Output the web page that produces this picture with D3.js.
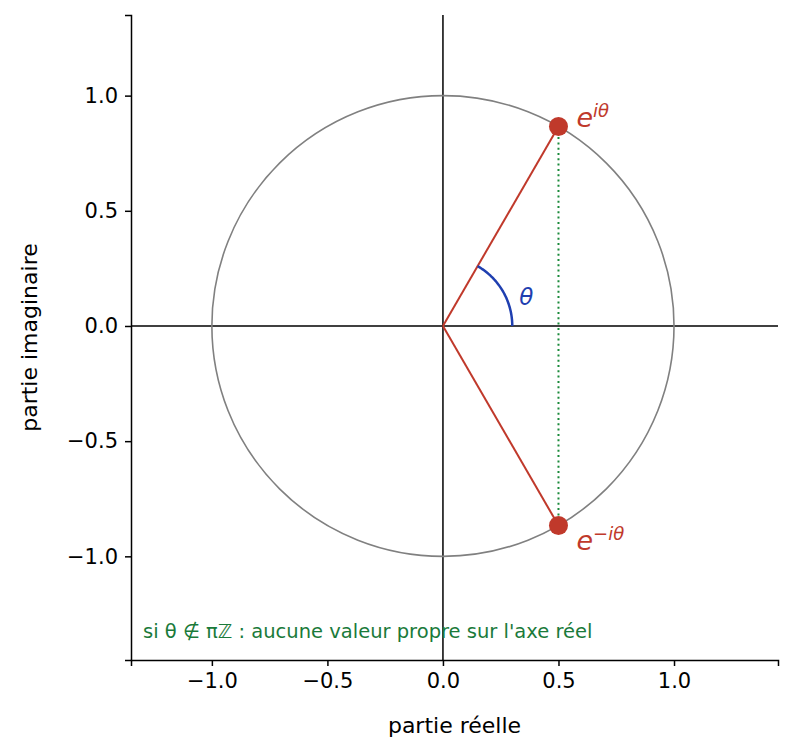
<!DOCTYPE html>
<html><head><meta charset="utf-8">
<script src="https://cdn.jsdelivr.net/npm/d3@7"></script>
<style>body{margin:0;background:#fff}text{font-family:"DejaVu Sans",sans-serif}</style>
</head><body><svg id="c" width="793" height="755"></svg>
<script>
const xTicks = [-1.0, -0.5, 0.0, 0.5, 1.0];
const yTicks = [-1.0, -0.5, 0.0, 0.5, 1.0];
const theta = Math.PI / 3;
const eigenvalues = [
  {re: Math.cos(theta), im: Math.sin(theta), label: "iθ", dy: -16},
  {re: Math.cos(theta), im: -Math.sin(theta), label: "−iθ", dy: 8}
];
const arcRadius = 0.3;

const svg = d3.select('#c');
const x = d3.scaleLinear().domain([-1.35, 1.45]).range([131, 778]);
const y = d3.scaleLinear().domain([-1.45, 1.35]).range([660, 15]);
const fmt = d3.format('.1f');
const minus = v => fmt(v).replace('-', '−');

// axes
const xa = svg.append('g').attr('transform', 'translate(0,660)')
  .call(d3.axisBottom(x).tickValues(xTicks).tickFormat(minus).tickSizeOuter(0).tickSize(6).tickPadding(7));
const ya = svg.append('g').attr('transform', 'translate(131,0)')
  .call(d3.axisLeft(y).tickValues(yTicks).tickFormat(minus).tickSizeOuter(0).tickSize(6).tickPadding(7));
[xa, ya].forEach(a => {
  a.attr('font-size', 21).attr('font-family', 'DejaVu Sans');
  a.selectAll('text').attr('fill', '#000');
  a.selectAll('line,path').attr('stroke', '#000').attr('stroke-width', 1.5);
});
svg.append('text').attr('x', x(0.05)).attr('y', 733).attr('text-anchor', 'middle')
  .attr('font-size', 22).text('partie réelle');
svg.append('text').attr('transform', `translate(37,${y(-0.05)}) rotate(-90)`)
  .attr('text-anchor', 'middle').attr('font-size', 22).text('partie imaginaire');

// zero lines
svg.append('line').attr('x1', x(0)).attr('x2', x(0)).attr('y1', 15).attr('y2', 660).attr('stroke', '#000').attr('stroke-width', 1.5);
svg.append('line').attr('x1', 131).attr('x2', 778).attr('y1', y(0)).attr('y2', y(0)).attr('stroke', '#000').attr('stroke-width', 1.5);

// unit circle
svg.append('ellipse').attr('cx', x(0)).attr('cy', y(0))
  .attr('rx', x(1) - x(0)).attr('ry', y(0) - y(1))
  .attr('fill', 'none').attr('stroke', 'gray').attr('stroke-width', 1.6);

// radii
eigenvalues.forEach(p => {
  svg.append('line').attr('x1', x(0)).attr('y1', y(0)).attr('x2', x(p.re)).attr('y2', y(p.im))
    .attr('stroke', '#c0392b').attr('stroke-width', 2);
});
// dotted conjugate link
svg.append('line').attr('x1', x(eigenvalues[0].re)).attr('y1', y(eigenvalues[0].im))
  .attr('x2', x(eigenvalues[1].re)).attr('y2', y(eigenvalues[1].im))
  .attr('stroke', '#1a8a3a').attr('stroke-width', 2).attr('stroke-dasharray', '2,3.3');

// angle arc
const arcPts = d3.range(0, 61).map(i => theta * i / 60);
svg.append('path').attr('d', d3.line().x(t => x(arcRadius * Math.cos(t))).y(t => y(arcRadius * Math.sin(t)))(arcPts))
  .attr('fill', 'none').attr('stroke', '#1f3fb0').attr('stroke-width', 2.5);
svg.append('text').attr('x', x(0.33)).attr('y', y(0.09)).attr('font-size', 23)
  .attr('font-style', 'italic').attr('fill', '#1f3fb0').text('θ');

// points
eigenvalues.forEach(p => {
  svg.append('circle').attr('cx', x(p.re)).attr('cy', y(p.im)).attr('r', 9.5).attr('fill', '#c0392b');
  const t = svg.append('text').attr('x', x(p.re) + 18).attr('y', y(p.im) + p.dy + 17)
    .attr('fill', '#c0392b').attr('font-style', 'italic').attr('font-size', 27);
  t.append('tspan').text('e');
  t.append('tspan').attr('dy', -10).attr('font-size', 18).text(p.label);
});

svg.append('text').attr('x', 143).attr('y', 638).attr('font-size', 19.5).attr('fill', '#1a7a3a')
  .text("si θ ∉ πℤ : aucune valeur propre sur l'axe réel");
</script></body></html>
